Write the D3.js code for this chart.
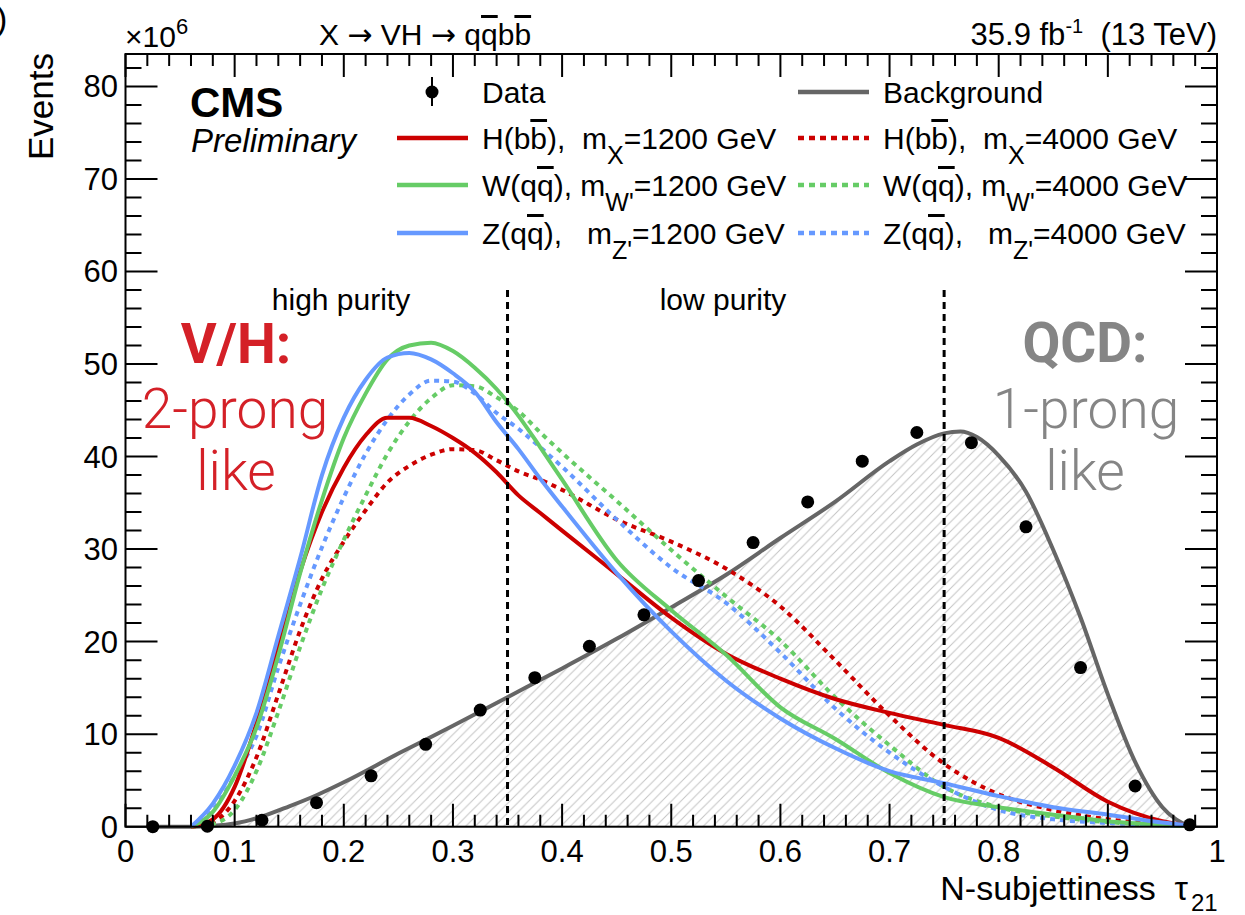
<!DOCTYPE html>
<html>
<head>
  <meta charset="utf-8">
  <title>N-subjettiness tau21</title>
  <style>
    body { margin: 0; padding: 0; background: white; }
    svg { display: block; }
    text { font-family: "Liberation Sans", Arial, sans-serif; fill: black; white-space: pre; }
    .big { font-family: Roboto, "Noto Sans", sans-serif; }
    .arrow { font-family: "DejaVu Sans", sans-serif; }
  </style>
</head>
<body>
  <div id="chart"></div>

  <script src="https://d3js.org/d3.v7.min.js"></script>
  <script>

  // common tau grid for the signal shapes
  var tauGrid = [0.06, 0.08, 0.10, 0.12, 0.14, 0.16, 0.18, 0.20, 0.22, 0.24, 0.26, 0.28, 0.30,
                 0.32, 0.34, 0.36, 0.38, 0.40, 0.45, 0.50, 0.55, 0.60, 0.65, 0.70, 0.75, 0.80,
                 0.85, 0.90, 0.95, 0.975]

  // signal shapes (x10^6 events)
  var hbb1200 = [0, 0.8, 4.3, 11.2, 19.8, 27.6, 34.0, 38.8, 42.3, 44.2, 44.2, 43.3, 42.0,
                 40.4, 38.3, 35.8, 33.9, 32.0, 27.3, 22.6, 18.7, 16.0, 13.8, 12.3, 11.0, 9.6,
                 6.4, 2.7, 0.6, 0.1]
  var wqq1200 = [0, 1.6, 5.5, 10.7, 18.5, 27.4, 35.3, 42.0, 46.8, 50.5, 52.0, 52.3, 51.4,
                 49.6, 47.3, 44.4, 41.0, 37.5, 28.8, 23.4, 18.6, 12.9, 9.5, 5.8, 3.2, 2.1,
                 1.3, 0.6, 0.2, 0.05]
  var zqq1200 = [0, 2.5, 6.6, 12.3, 20.6, 29.0, 38.0, 44.2, 48.3, 50.7, 51.2, 50.5, 49.0,
                 47.0, 43.7, 40.8, 37.6, 34.6, 27.4, 21.1, 15.8, 11.7, 8.5, 6.0, 4.7, 3.3,
                 2.1, 1.3, 0.45, 0.15]
  var hbb4000 = [0, 0.5, 2.8, 7.5, 14.3, 21.2, 26.8, 30.8, 34.2, 37.2, 39.0, 40.2, 40.8,
                 40.7, 39.6, 38.4, 37.5, 36.4, 33.2, 30.8, 27.9, 23.8, 18.0, 12.0, 6.8, 3.5,
                 1.8, 0.8, 0.25, 0.05]
  var wqq4000 = [0, 0.3, 1.8, 6.0, 12.4, 19.4, 25.7, 31.0, 35.8, 40.3, 43.8, 46.3, 47.7,
                 47.6, 46.4, 44.9, 42.6, 40.4, 35.2, 29.9, 24.9, 20.1, 14.0, 8.8, 4.3, 2.1,
                 1.1, 0.5, 0.15, 0.05]
  var zqq4000 = [0, 1.8, 5.5, 9.8, 17.2, 24.0, 30.2, 35.6, 40.3, 44.0, 46.7, 48.2, 48.1,
                 46.8, 44.7, 43.0, 41.0, 38.9, 33.2, 28.0, 24.2, 18.8, 12.8, 8.0, 4.3, 1.8,
                 0.8, 0.4, 0.15, 0.05]

  // background shape
  var bkgTau = [0.025, 0.06, 0.08, 0.10, 0.125, 0.15, 0.175, 0.20, 0.25, 0.30, 0.35, 0.40,
                0.45, 0.50, 0.55, 0.60, 0.65, 0.70, 0.725, 0.75, 0.765, 0.78, 0.80, 0.825,
                0.85, 0.875, 0.90, 0.925, 0.95, 0.975]
  var bkgVals = [0, 0, 0.1, 0.35, 1.1, 2.2, 3.4, 4.8, 7.9, 10.9, 14.0, 17.1,
                 20.3, 23.7, 27.2, 31.2, 35.1, 39.5, 41.3, 42.5, 42.7, 42.1, 40.1, 36.2,
                 29.9, 22.6, 14.3, 7.0, 2.1, 0]

  // data points (bin centres)
  var dataTau = [0.025, 0.075, 0.125, 0.175, 0.225, 0.275, 0.325, 0.375, 0.425, 0.475,
                 0.525, 0.575, 0.625, 0.675, 0.725, 0.775, 0.825, 0.875, 0.925, 0.975]
  var dataVals = [0, 0.05, 0.7, 2.6, 5.5, 8.9, 12.6, 16.1, 19.5, 22.9,
                  26.6, 30.7, 35.1, 39.5, 42.6, 41.5, 32.4, 17.2, 4.4, 0.2]

  // axis ticks
  var xTickLabels = ["0", "0.1", "0.2", "0.3", "0.4", "0.5", "0.6", "0.7", "0.8", "0.9", "1"]
  var yTickLabels = ["0", "10", "20", "30", "40", "50", "60", "70", "80"]
  var categoryCuts = [0.35, 0.75]

  var width = 1245,
      height = 915

  var svg = d3.select("#chart").append("svg")
      .attr("width", width)
      .attr("height", height)

  var x = d3.scaleLinear().domain([0, 1]).range([125.5, 1217])
  var y = d3.scaleLinear().domain([0, 83.5]).range([826.7, 54])

  // hatch pattern for the background fill
  var defs = svg.append("defs")
  var pat = defs.append("pattern")
      .attr("id", "hatch")
      .attr("patternUnits", "userSpaceOnUse")
      .attr("width", 9.5)
      .attr("height", 9.5)
  pat.append("path")
      .attr("d", "M-1,1 L1,-1 M0,9.5 L9.5,0 M8.5,10.5 L10.5,8.5")
      .attr("stroke", "#c4c4c4")
      .attr("stroke-width", 1)

  var area = d3.area()
      .x(function (d) { return x(d[0]) })
      .y0(y(0))
      .y1(function (d) { return y(d[1]) })
      .curve(d3.curveMonotoneX)

  var line = d3.line()
      .x(function (d) { return x(d[0]) })
      .y(function (d) { return y(d[1]) })
      .curve(d3.curveMonotoneX)

  var bkg = d3.zip(bkgTau, bkgVals)

  svg.append("path")
      .attr("d", area(bkg))
      .attr("fill", "url(#hatch)")

  svg.append("path")
      .attr("d", line(bkg))
      .attr("fill", "none")
      .attr("stroke", "#666666")
      .attr("stroke-width", 4)

  var red = "#cc0000",
      green = "#66cc66",
      blue = "#6699ff"

  var signals = [
    {vals: hbb4000, color: red, dash: "5,5"},
    {vals: wqq4000, color: green, dash: "5,5"},
    {vals: zqq4000, color: blue, dash: "5,5"},
    {vals: hbb1200, color: red, dash: null},
    {vals: wqq1200, color: green, dash: null},
    {vals: zqq1200, color: blue, dash: null}
  ]

  svg.append("g").selectAll("path")
      .data(signals)
      .enter().append("path")
      .attr("d", function (d) { return line(d3.zip(tauGrid, d.vals)) })
      .attr("fill", "none")
      .attr("stroke", function (d) { return d.color })
      .attr("stroke-width", 4)
      .attr("stroke-dasharray", function (d) { return d.dash })

  // data points
  svg.append("g").selectAll("circle")
      .data(d3.zip(dataTau, dataVals))
      .enter().append("circle")
      .attr("cx", function (d) { return x(d[0]) })
      .attr("cy", function (d) { return y(d[1]) })
      .attr("r", 6.5)
      .attr("fill", "black")

  // category boundaries
  svg.append("g").selectAll("line")
      .data(categoryCuts)
      .enter().append("line")
      .attr("x1", function (d) { return x(d) })
      .attr("x2", function (d) { return x(d) })
      .attr("y1", y(58))
      .attr("y2", y(0))
      .attr("stroke", "black")
      .attr("stroke-width", 3)
      .attr("stroke-dasharray", "7,5")

  // frame + ticks, ROOT style
  var frame = svg.append("g")
  frame.append("rect")
      .attr("x", x(0)).attr("y", y(83.5))
      .attr("width", x(1) - x(0)).attr("height", y(0) - y(83.5))
      .attr("fill", "none").attr("stroke", "black").attr("stroke-width", 2)

  var xMinor = d3.range(0, 51).map(function (i) { return i / 50 })
  var yMinor = d3.range(0, 42).map(function (i) { return i * 2 })

  frame.selectAll(".xt").data(xMinor).enter().append("path")
      .attr("d", function (d, i) {
        var len = (i % 5 === 0) ? 23 : 12
        return "M" + x(d) + "," + y(0) + "v" + (-len) + "M" + x(d) + "," + y(83.5) + "v" + len
      })
      .attr("stroke", "black").attr("stroke-width", 2)

  frame.selectAll(".yt").data(yMinor).enter().append("path")
      .attr("d", function (d, i) {
        var len = (i % 5 === 0) ? 32 : 16
        return "M" + x(0) + "," + y(d) + "h" + len + "M" + x(1) + "," + y(d) + "h" + (-len)
      })
      .attr("stroke", "black").attr("stroke-width", 2)

  // tick labels
  svg.append("g").selectAll("text")
      .data(xTickLabels)
      .enter().append("text")
      .attr("x", function (d) { return x(+d) })
      .attr("y", 862)
      .attr("text-anchor", "middle")
      .style("font-size", "31px")
      .text(function (d) { return d })

  svg.append("g").selectAll("text")
      .data(yTickLabels)
      .enter().append("text")
      .attr("x", 118)
      .attr("y", function (d) { return y(+d) + 11 })
      .attr("text-anchor", "end")
      .style("font-size", "31px")
      .text(function (d) { return d })

  // axis titles
  svg.append("text")
      .attr("x", 1188)
      .attr("y", 900)
      .attr("text-anchor", "end")
      .style("font-size", "34px")
      .text("N-subjettiness  \u03C4")
  svg.append("text")
      .attr("x", 1191).attr("y", 911)
      .style("font-size", "24px")
      .text("21")

  svg.append("text")
      .attr("transform", "translate(53,53) rotate(-90)")
      .attr("text-anchor", "end")
      .style("font-size", "35px")
      .text("Events")

  // x10^6
  var mult = svg.append("text").attr("x", 125).attr("y", 47).style("font-size", "30px")
  mult.append("tspan").text("\u00D710")
  mult.append("tspan").attr("dy", -13).style("font-size", "22px").text("6")

  // header texts
  var ttl = svg.append("text").attr("x", 319).attr("y", 45).style("font-size", "30px")
  ttl.append("tspan").text("X ")
  ttl.append("tspan").attr("class", "arrow").text("\u2192")
  ttl.append("tspan").text(" VH ")
  ttl.append("tspan").attr("class", "arrow").text("\u2192")
  ttl.append("tspan").text(" q")
  ttl.append("tspan").style("text-decoration", "overline").text("q")
  ttl.append("tspan").text("b")
  ttl.append("tspan").style("text-decoration", "overline").text("b")

  var lumi = svg.append("text").attr("x", 1217).attr("y", 45)
      .attr("text-anchor", "end").style("font-size", "31px")
  lumi.append("tspan").text("35.9 fb")
  lumi.append("tspan").attr("dy", -12).style("font-size", "20px").text("-1")
  lumi.append("tspan").attr("dy", 12).text("  (13 TeV)")

  svg.append("text").attr("x", -4).attr("y", 30).style("font-size", "34px").text(")")

  svg.append("text").attr("x", 190).attr("y", 117)
      .style("font-size", "42px").style("font-weight", "bold").text("CMS")
  svg.append("text").attr("x", 191).attr("y", 152)
      .style("font-size", "33px").style("font-style", "italic").text("Preliminary")

  // category labels
  svg.append("text").attr("x", 341).attr("y", 310).attr("text-anchor", "middle")
      .style("font-size", "30px").text("high purity")
  svg.append("text").attr("x", 723).attr("y", 310).attr("text-anchor", "middle")
      .style("font-size", "30px").text("low purity")

  // annotations
  var vh = "#d42027", qcd = "#858585"
  svg.append("text").attr("class", "big").attr("x", 236).attr("y", 363)
      .attr("text-anchor", "middle").style("font-size", "55px").style("font-weight", "bold")
      .style("fill", vh).text("V/H:")
  svg.append("text").attr("class", "big").attr("x", 235).attr("y", 428)
      .attr("text-anchor", "middle").style("font-size", "55px").style("font-weight", "300")
      .style("fill", vh).text("2-prong")
  svg.append("text").attr("class", "big").attr("x", 236).attr("y", 490)
      .attr("text-anchor", "middle").style("font-size", "55px").style("font-weight", "300")
      .style("fill", vh).text("like")

  svg.append("text").attr("class", "big").attr("x", 1085).attr("y", 362)
      .attr("text-anchor", "middle").style("font-size", "55px").style("font-weight", "bold")
      .style("fill", qcd).text("QCD:")
  svg.append("text").attr("class", "big").attr("x", 1086).attr("y", 428)
      .attr("text-anchor", "middle").style("font-size", "55px").style("font-weight", "300")
      .style("fill", qcd).text("1-prong")
  svg.append("text").attr("class", "big").attr("x", 1085).attr("y", 490)
      .attr("text-anchor", "middle").style("font-size", "55px").style("font-weight", "300")
      .style("fill", qcd).text("like")

  // legend
  var legend = [
    {col: 0, row: 0, type: "data", parts: [["Data"]]},
    {col: 1, row: 0, type: "line", color: "#666666", dash: null, parts: [["Background"]]},
    {col: 0, row: 1, type: "line", color: red, dash: null,
     parts: [["H(b"], ["b", "bar"], ["),  m"], ["X", "sub"], ["=1200 GeV"]]},
    {col: 0, row: 2, type: "line", color: green, dash: null,
     parts: [["W(q"], ["q", "bar"], ["), m"], ["W'", "sub"], ["=1200 GeV"]]},
    {col: 0, row: 3, type: "line", color: blue, dash: null,
     parts: [["Z(q"], ["q", "bar"], ["),   m"], ["Z'", "sub"], ["=1200 GeV"]]},
    {col: 1, row: 1, type: "line", color: red, dash: "6,5",
     parts: [["H(b"], ["b", "bar"], ["),  m"], ["X", "sub"], ["=4000 GeV"]]},
    {col: 1, row: 2, type: "line", color: green, dash: "6,5",
     parts: [["W(q"], ["q", "bar"], ["), m"], ["W'", "sub"], ["=4000 GeV"]]},
    {col: 1, row: 3, type: "line", color: blue, dash: "6,5",
     parts: [["Z(q"], ["q", "bar"], ["),   m"], ["Z'", "sub"], ["=4000 GeV"]]}
  ]
  var colX = [397, 798],
      rowY = [92, 138, 185, 233]

  legend.forEach(function (e) {
    var x0 = colX[e.col], yc = rowY[e.row]
    if (e.type === "data") {
      svg.append("line").attr("x1", x0 + 35).attr("x2", x0 + 35)
          .attr("y1", yc - 15).attr("y2", yc + 14)
          .attr("stroke", "black").attr("stroke-width", 2)
      svg.append("circle").attr("cx", x0 + 35).attr("cy", yc).attr("r", 6.5).attr("fill", "black")
    } else {
      svg.append("line").attr("x1", x0).attr("x2", x0 + 71)
          .attr("y1", yc).attr("y2", yc)
          .attr("stroke", e.color).attr("stroke-width", 4.5)
          .attr("stroke-dasharray", e.dash)
    }
    var t = svg.append("text").attr("x", x0 + 85).attr("y", yc + 11).style("font-size", "30px")
    var shifted = false
    e.parts.forEach(function (p) {
      var ts = t.append("tspan").text(p[0])
      if (p[1] === "bar") ts.style("text-decoration", "overline")
      if (p[1] === "sub") {
        ts.attr("dy", 15).style("font-size", "25px")
        shifted = true
      } else if (shifted) {
        ts.attr("dy", -15)
        shifted = false
      }
    })
  })

  </script>
</body>
</html>
